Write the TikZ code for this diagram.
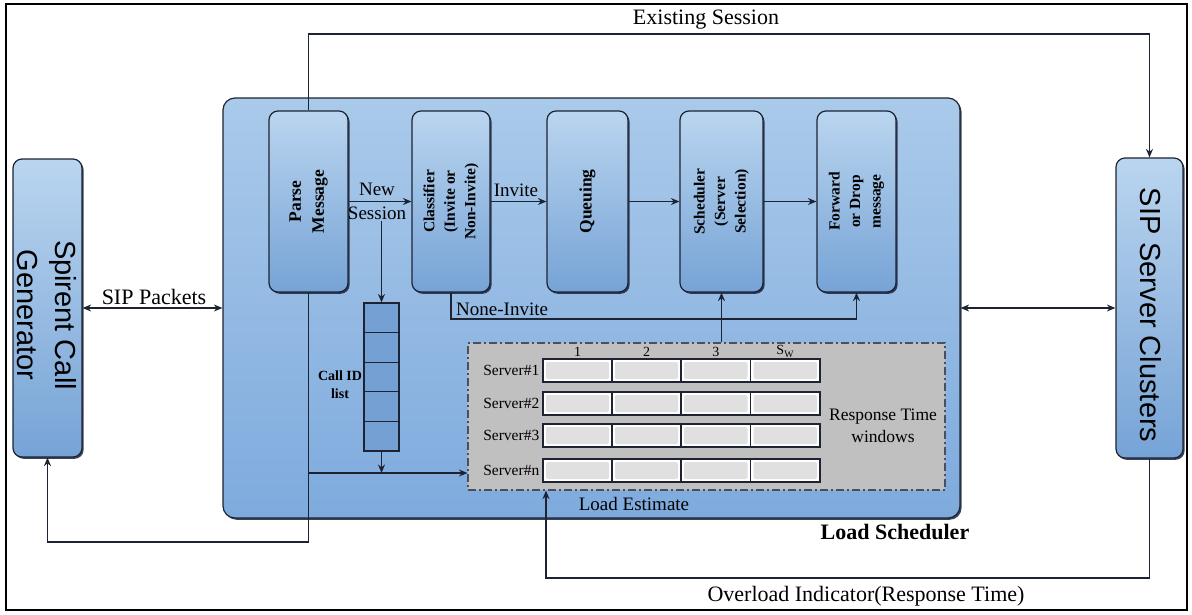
\documentclass[tikz,border=0pt]{standalone}
\usepackage{fontspec}
\setmainfont{Liberation Serif}
\newfontfamily\arialf{Liberation Sans}
\usetikzlibrary{arrows.meta,shadows}
\definecolor{lineC}{RGB}{30,35,52}
\definecolor{bTop}{RGB}{186,213,239}
\definecolor{bBot}{RGB}{118,163,214}
\definecolor{lsTop}{RGB}{170,202,234}
\definecolor{lsBot}{RGB}{126,170,221}
\definecolor{listC}{RGB}{116,160,212}
\definecolor{leGray}{RGB}{192,192,192}
\definecolor{cellIn}{RGB}{224,224,224}
\definecolor{shadowC}{RGB}{25,35,60}
\begin{document}
\begin{tikzpicture}[x=1pt,y=-1pt,
  ln/.style={draw=lineC, line width=1.3pt},
  arr/.style={ln, -{Stealth[length=8.5pt,width=7pt]}},
  darr/.style={ln, {Stealth[length=8.5pt,width=7pt]}-{Stealth[length=8.5pt,width=7pt]}},
  blk/.style={draw=lineC, line width=1.2pt, rounded corners=9pt, top color=bTop, bottom color=bBot,
    drop shadow={shadow xshift=1.6pt, shadow yshift=-1.8pt, fill=shadowC, opacity=0.85}, inner sep=0pt},
  proc/.style={blk, minimum height=181pt},
  lbl/.style={inner sep=0pt, font=\fontsize{22}{26}\selectfont},
  mtxt/.style={inner sep=0pt, font=\fontsize{19}{22}\selectfont},
  ptxt/.style={inner sep=0pt, align=center, font=\bfseries\fontsize{15.5}{20.5}\selectfont},
  bigtxt/.style={inner sep=0pt, align=center, font=\arialf\fontsize{29}{38}\selectfont},
  listcell/.style={draw=lineC, line width=1.2pt, fill=listC, minimum width=35pt, minimum height=29.6pt, inner sep=0pt},
  gcell/.style={draw=lineC, line width=1.1pt, fill=white, minimum height=23pt, inner sep=0pt,
    path picture={\fill[cellIn, rounded corners=2pt] ([shift={(3pt,-3pt)}]path picture bounding box.north west) rectangle ([shift={(-3pt,3pt)}]path picture bounding box.south east);}},
  srv/.style={inner sep=0pt, font=\fontsize{15.5}{18}\selectfont},
  col/.style={inner sep=0pt, font=\fontsize{14}{16}\selectfont}
]
\useasboundingbox (0,0) rectangle (1192,614);
\fill[white] (0,0) rectangle (1192,614);
\draw[line width=2.8pt] (6,4) rectangle (1187,610);

% helper coordinates
\coordinate (yes) at (0,34);
\coordinate (yni) at (0,319);
\coordinate (yle) at (0,473);
\coordinate (yret) at (0,542);
\coordinate (yov) at (0,578);
\coordinate (xov) at (546,0);

% outer blocks
\node[blk, minimum width=69pt, minimum height=298pt] (spirent) at (47.5,308) {};
\node[bigtxt, rotate=-90] at (47,315) {Spirent Call\\Generator};
\node[blk, minimum width=67pt, minimum height=300pt] (sip) at (1149.5,308) {};
\node[bigtxt, rotate=-90] at (1151,315) {SIP Server Clusters};

% load scheduler
\node[blk, rounded corners=12pt, top color=lsTop, bottom color=lsBot, minimum width=737pt, minimum height=420pt] (ls) at (591.5,308) {};
\node[lbl, font=\bfseries\fontsize{22}{26}\selectfont] (lslbl) at (895,532) {Load Scheduler};

% process boxes
\node[proc, minimum width=79pt] (parse) at (308.5,201.5) {};
\node[ptxt, rotate=90, font=\bfseries\fontsize{17.5}{23}\selectfont] at (parse) {Parse\\Message};
\node[proc, minimum width=78pt] (cls) at (451,201.5) {};
\node[ptxt, rotate=90] at (cls) {Classifier\\(Invite or\\Non-Invite)};
\node[proc, minimum width=81pt] (que) at (587.5,201.5) {};
\node[ptxt, rotate=90, font=\bfseries\fontsize{17.5}{22}\selectfont] at (que) {Queuing};
\node[proc, minimum width=83pt] (sch) at (721.5,201.5) {};
\node[ptxt, rotate=90] at (sch) {Scheduler\\(Server\\Selection)};
\node[proc, minimum width=79pt] (fwd) at (856.5,201.5) {};
\node[ptxt, rotate=90] at (fwd) {Forward\\or Drop\\message};

% call ID list
\node[listcell] (c1) at (381.5,317.8) {};
\node[listcell] (c2) at (381.5,347.4) {};
\node[listcell] (c3) at (381.5,377.0) {};
\node[listcell] (c4) at (381.5,406.6) {};
\node[listcell] (c5) at (381.5,436.2) {};
\node[inner sep=0pt, align=center, font=\bfseries\fontsize{14}{18}\selectfont] (callid) at (340,385) {Call ID\\list};

% load estimate area
\node[draw=lineC!80, line width=1.1pt, dash pattern=on 8pt off 3pt on 2pt off 3pt, fill=leGray,
  minimum width=477pt, minimum height=147pt, inner sep=0pt] (le) at (706.5,416.5) {};
\foreach \r/\y in {1/370.5,2/403.5,3/435.5,4/470.5}{
  \node[gcell, minimum width=69pt] (g-\r-1) at (577.5,\y) {};
  \node[gcell, minimum width=69pt] (g-\r-2) at (646.5,\y) {};
  \node[gcell, minimum width=69.5pt] (g-\r-3) at (715.75,\y) {};
  \node[gcell, minimum width=69.5pt] (g-\r-4) at (785.25,\y) {};
}
\node[srv, anchor=east] at ([xshift=-3pt]g-1-1.west) {Server\#1};
\node[srv, anchor=east] at ([xshift=-3pt]g-2-1.west) {Server\#2};
\node[srv, anchor=east] at ([xshift=-3pt]g-3-1.west) {Server\#3};
\node[srv, anchor=east] at ([xshift=-3pt]g-4-1.west) {Server\#n};
\node[col, anchor=south] at ([yshift=2pt]g-1-1.north) {1};
\node[col, anchor=south] at ([yshift=2pt]g-1-2.north) {2};
\node[col, anchor=south] at ([yshift=2pt]g-1-3.north) {3};
\node[col, anchor=south] at ([yshift=1pt]g-1-4.north) {S\textsubscript{W}};
\node[inner sep=0pt, align=center, font=\fontsize{17.5}{22}\selectfont] (rtw) at (883,426) {Response Time\\windows};
\node[mtxt] (lelbl) at (634,504) {Load Estimate};

% connectors inside
\draw[arr] (parse.east) -- (cls.west);
\node[mtxt] (lnew) at (377,189) {New};
\node[mtxt] (lses) at (377,213) {Session};
\draw[arr] (cls.east) -- (que.west);
\node[mtxt] (linv) at (516,190) {Invite};
\draw[arr] (que.east) -- (sch.west);
\draw[arr] (sch.east) -- (fwd.west);
\draw[arr] ([yshift=-1pt]c1.north |- lses.south) -- (c1.north);
\draw[arr] (c5.south) -- (c5.south |- yle);
\draw[arr] (cls.south) -- (cls.south |- yni) -- (fwd.south |- yni) -- (fwd.south);
\node[mtxt, anchor=south west] (lnone) at (456,316) {None-Invite};
\draw[arr] (le.north -| sch.south) -- (sch.south);
\draw[arr] (parse.south |- yle) -- (le.west |- yle);

% outer connectors
\draw[arr] (parse.north) -- (parse.north |- yes) -| (sip.north);
\node[lbl] (lexist) at (706,20) {Existing Session};
\draw[darr] (spirent.east) -- (ls.west);
\node[lbl] (lsipp) at (154,297) {SIP Packets};
\draw[darr] (ls.east) -- (sip.west);
\draw[arr] (parse.south) -- (parse.south |- yret) -| (spirent.south);
\draw[arr] (sip.south) -- (sip.south |- yov) -- (xov |- yov) -- (xov |- le.south);
\node[lbl] (lover) at (866,596) {Overload Indicator(Response Time)};
\end{tikzpicture}
\end{document}
